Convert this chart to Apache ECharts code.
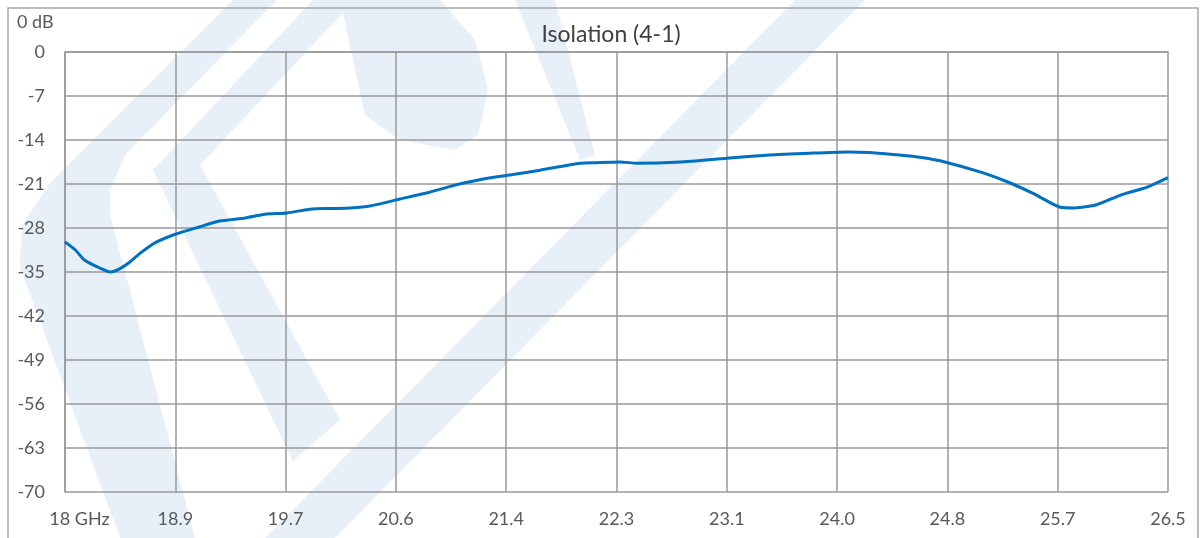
<!DOCTYPE html>
<html>
<head>
<meta charset="utf-8">
<title>Isolation (4-1)</title>
<script src="https://cdn.jsdelivr.net/npm/echarts@6/dist/echarts.min.js"></script>
<style>
  html, body { margin: 0; padding: 0; background: #fff; }
  #chart { width: 1204px; height: 538px; }
</style>
</head>
<body>
<div id="chart"></div>
<script>
// frequency in GHz, isolation in dB
const freqGHz = [
  18.00, 18.08, 18.15, 18.27, 18.35, 18.42, 18.50, 18.58, 18.69, 18.85,
  19.04, 19.19, 19.39, 19.54, 19.71, 19.89, 20.05, 20.20, 20.35, 20.58,
  20.81, 21.04, 21.28, 21.45, 21.66, 21.97, 22.10, 22.28, 22.41, 22.74,
  23.10, 23.43, 23.74, 24.03, 24.20, 24.43, 24.60, 24.78, 25.07, 25.28,
  25.46, 25.67, 25.78, 25.95, 26.13, 26.34, 26.50
];
const isolationDb = [
  -30.2, -31.5, -33.1, -34.4, -35.0, -34.5, -33.4, -32.0, -30.4, -29.0,
  -27.8, -26.9, -26.4, -25.8, -25.6, -25.0, -24.9, -24.8, -24.5, -23.4,
  -22.3, -21.0, -20.0, -19.5, -18.8, -17.7, -17.6, -17.5, -17.7, -17.5,
  -16.9, -16.4, -16.1, -15.9, -16.0, -16.4, -16.8, -17.5, -19.2, -20.8,
  -22.5, -24.7, -24.8, -24.3, -22.8, -21.5, -20.0
];
const xTickLabels = ['18 GHz', '18.9', '19.7', '20.6', '21.4', '22.3', '23.1', '24.0', '24.8', '25.7', '26.5'];
const xStart = 18;
const xStep = 0.85;

const chart = echarts.init(document.getElementById('chart'), null, { renderer: 'canvas' });

// faint logo watermark behind the plot
const wm = '#e7eff8';
const poly = (points) => ({
  type: 'polygon', silent: true, z: -10,
  shape: { points: points },
  style: { fill: wm }
});

const font = 'Lato';
const textGrey = '#595959';

const option = {
  animation: false,
  backgroundColor: '#fff',
  title: {
    text: 'Isolation (4-1)',
    left: 606, top: 18, textAlign: 'center',
    textStyle: { fontFamily: font, fontWeight: 'normal', fontSize: 23, color: '#404040' }
  },
  graphic: [
    poly([[233, 0], [277, 0], [125, 155], [110, 190], [110, 215], [195, 538], [120, 538], [20, 267], [22, 225], [50, 183]]),
    poly([[153, 170], [313, 0], [355, 0], [200, 165], [340, 420], [293, 461]]),
    poly([[795, 0], [865, 0], [335, 538], [265, 538]]),
    poly([[340, 0], [440, 0], [475, 40], [488, 90], [478, 135], [455, 150], [400, 140], [365, 115]]),
    poly([[515, 0], [555, 0], [595, 155], [580, 160]]),
    {
      type: 'rect', silent: true, z: -5,
      shape: { x: 8, y: 8, width: 1190, height: 560 },
      style: { fill: 'none', stroke: '#a6a6a6', lineWidth: 1.5 }
    },
    {
      type: 'text', left: 17, top: 13,
      style: { text: '0 dB', fontFamily: font, fontSize: 18, fill: textGrey }
    }
  ],
  grid: { left: 65, right: 36, top: 52, bottom: 46 },
  xAxis: {
    type: 'value',
    min: 0, max: xStep * 10, interval: xStep,
    axisLine: { show: true, lineStyle: { color: '#999', width: 1.5 } },
    axisTick: { show: false },
    splitLine: { show: true, lineStyle: { color: '#999', width: 1.5 } },
    axisLabel: {
      margin: 18,
      fontFamily: font, fontSize: 18, color: textGrey,
      showMinLabel: true, showMaxLabel: true,
      formatter: (v) => {
        const i = Math.round(v / xStep);
        return i === 0 ? '{first|' + xTickLabels[0] + '}' : xTickLabels[i];
      },
      rich: { first: { fontFamily: font, fontSize: 18, color: textGrey, padding: [0, 0, 0, 29] } }
    }
  },
  yAxis: {
    type: 'value',
    min: -70, max: 0, interval: 7,
    axisLine: { show: true, lineStyle: { color: '#999', width: 1.5 } },
    axisTick: { show: false },
    splitLine: { show: true, lineStyle: { color: '#999', width: 1.5 } },
    axisLabel: { margin: 20, fontFamily: font, fontSize: 18, color: textGrey }
  },
  series: [{
    type: 'line',
    data: freqGHz.map((f, i) => [f - xStart, isolationDb[i]]),
    showSymbol: false,
    smooth: 0.2,
    lineStyle: { color: '#0070c0', width: 3 }
  }]
};

chart.setOption(option);
</script>
</body>
</html>
